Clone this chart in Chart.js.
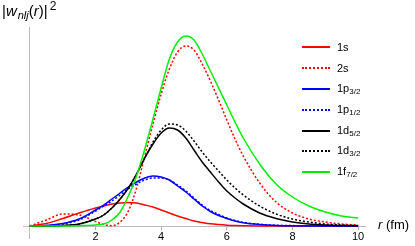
<!DOCTYPE html>
<html>
<head>
<meta charset="utf-8">
<script src="https://cdn.jsdelivr.net/npm/chart.js@4.4.1/dist/chart.umd.min.js"></script>
<style>
  html, body { margin: 0; padding: 0; background: #fff; }
  #wrap { position: relative; width: 415px; height: 246px; font-family: "Liberation Sans", Arial, sans-serif; }
  #wrap canvas { position: absolute; left: 0; top: 0; }
  .ytitle { position: absolute; left: 2px; top: -1px; font-size: 15px; color: #000; white-space: nowrap; }
  .ytitle sub { font-size: 11px; vertical-align: -3px; margin-left: 1px; }
  .ytitle sup { font-size: 12px; vertical-align: 6px; margin-left: 2px; }
  .xtitle { position: absolute; left: 378px; top: 217px; font-size: 13px; color: #000; white-space: nowrap; }
  .legend { position: absolute; left: 302px; top: 37px; font-size: 11px; color: #000; }
  .legend .row { height: 20.8px; display: flex; align-items: center; }
  .legend .swatch { width: 28px; height: 0; margin-right: 7px; }
  .legend sub { font-size: 8px; vertical-align: -2px; }
</style>
</head>
<body>
<div id="wrap">
  <canvas id="chart" width="415" height="246"></canvas>
  <div class="ytitle">|<i>w</i><sub><i>nlj</i></sub>(<i>r</i>)|<sup>2</sup></div>
  <div class="xtitle"><i>r</i> (fm)</div>
  <div class="legend" id="legend"></div>
</div>
<script>
// radius grid (fm)
const radius = [0, 0.5, 1, 1.5, 2, 2.25, 2.5, 2.75, 3, 3.25, 3.5, 3.75, 4, 4.25, 4.5, 4.75,
                5, 5.25, 5.5, 5.75, 6, 6.25, 6.5, 7, 7.5, 8, 8.5, 9, 9.5, 10];

// |w(r)|^2, arbitrary units
const w1s   = [0, 2.5, 7.5, 13, 18, 20, 22, 23, 23.5, 23, 21, 19, 16, 13, 10, 7.5, 5, 3.5, 2.2, 1.4, 0.8, 0.5, 0.3, 0.1, 0.05, 0, 0, 0, 0, 0];
const w2s   = [0, 6, 12, 11, 4.5, 1.5, 0.3, 4, 15, 38, 70, 102, 132, 157, 174, 180, 176, 162, 145, 126, 106, 87, 70, 43, 24, 13, 7, 4, 2, 1];
const w1p32 = [0, 0.5, 2.5, 7, 16, 21, 27, 33, 39, 44, 48, 50, 49, 46, 40, 34, 27, 20, 14.5, 10.5, 7.5, 5, 3.3, 1.5, 0.6, 0.3, 0.1, 0, 0, 0];
const w1p12 = [0, 0.4, 2, 6, 15, 20, 25, 31, 37, 42, 46, 48, 48, 46, 41, 35, 28, 21, 15.5, 11.5, 8, 5.5, 3.7, 1.7, 0.8, 0.4, 0.2, 0.1, 0, 0];
const w1d52 = [0, 0, 0.5, 2, 7, 11, 18, 27, 38, 52, 68, 82, 93, 98, 96, 88, 76, 64, 54, 44, 35, 28, 22, 13, 7.5, 4, 2, 1, 0.5, 0.2];
const w1d32 = [0, 0, 0.4, 2, 7, 11, 18, 27, 38, 52, 68, 84, 96, 102, 101, 95, 85, 74, 64, 55, 46, 38, 31, 20, 12, 7, 4, 2, 1, 0.5];
const w1f72 = [0, 0, 0, 0.3, 1, 2, 6, 14, 30, 50, 77, 107, 138, 167, 184, 190, 186, 172, 155, 138, 121, 104, 88, 62, 42, 29, 20, 14, 10, 8];

const stateNames = ["1s", "2s", "1p", "1p", "1d", "1d", "1f"];
const stateSubs  = ["", "", "3/2", "1/2", "5/2", "3/2", "7/2"];
const xTickVals  = [0, 2, 4, 6, 8, 10];

const series = [w1s, w2s, w1p32, w1p12, w1d52, w1d32, w1f72];
const colors = ["#ff0000", "#ff0000", "#0000ff", "#0000ff", "#000000", "#000000", "#00ee00"];
const dotted = [false, true, false, true, false, true, false];

const datasets = series.map(function(vals, i) {
  return {
    label: stateNames[i] + stateSubs[i],
    data: radius.map(function(r, k) { return { x: r, y: vals[k] }; }),
    borderColor: colors[i],
    borderWidth: 1.5,
    borderDash: dotted[i] ? [2, 2] : [],
    pointRadius: 0,
    fill: false,
    cubicInterpolationMode: "monotone",
    order: series.length - i
  };
});

new Chart(document.getElementById("chart").getContext("2d"), {
  type: "line",
  data: { datasets: datasets },
  options: {
    responsive: false,
    animation: false,
    layout: { padding: { left: 23, right: 50, top: 27, bottom: 8 } },
    plugins: { legend: { display: false }, tooltip: { enabled: false } },
    scales: {
      x: {
        type: "linear",
        position: { y: 0 },
        min: -0.21,
        max: 10.21,
        afterBuildTicks: function(scale) {
          scale.ticks = xTickVals.map(function(v) { return { value: v }; });
        },
        ticks: {
          color: "#000",
          font: { family: "Liberation Sans", size: 11 },
          padding: 1,
          maxRotation: 0,
          callback: function(value) { return value === 0 ? "" : value; }
        },
        grid: { drawOnChartArea: false, drawTicks: true, tickLength: 3, color: "#aaa" },
        border: { display: true, color: "#bbb", width: 1 }
      },
      y: {
        type: "linear",
        position: { x: 0 },
        min: -12,
        max: 199,
        ticks: { display: false },
        grid: { drawOnChartArea: false, drawTicks: false },
        border: { display: true, color: "#bbb", width: 1 }
      }
    }
  }
});

// legend with subscripts
const legend = document.getElementById("legend");
datasets.forEach(function(ds, i) {
  const row = document.createElement("div");
  row.className = "row";
  const sw = document.createElement("span");
  sw.className = "swatch";
  sw.style.borderTop = "2px " + (dotted[i] ? "dotted " : "solid ") + colors[i];
  const txt = document.createElement("span");
  txt.innerHTML = stateNames[i] + (stateSubs[i] ? "<sub>" + stateSubs[i] + "</sub>" : "");
  row.appendChild(sw);
  row.appendChild(txt);
  legend.appendChild(row);
});
</script>
</body>
</html>
